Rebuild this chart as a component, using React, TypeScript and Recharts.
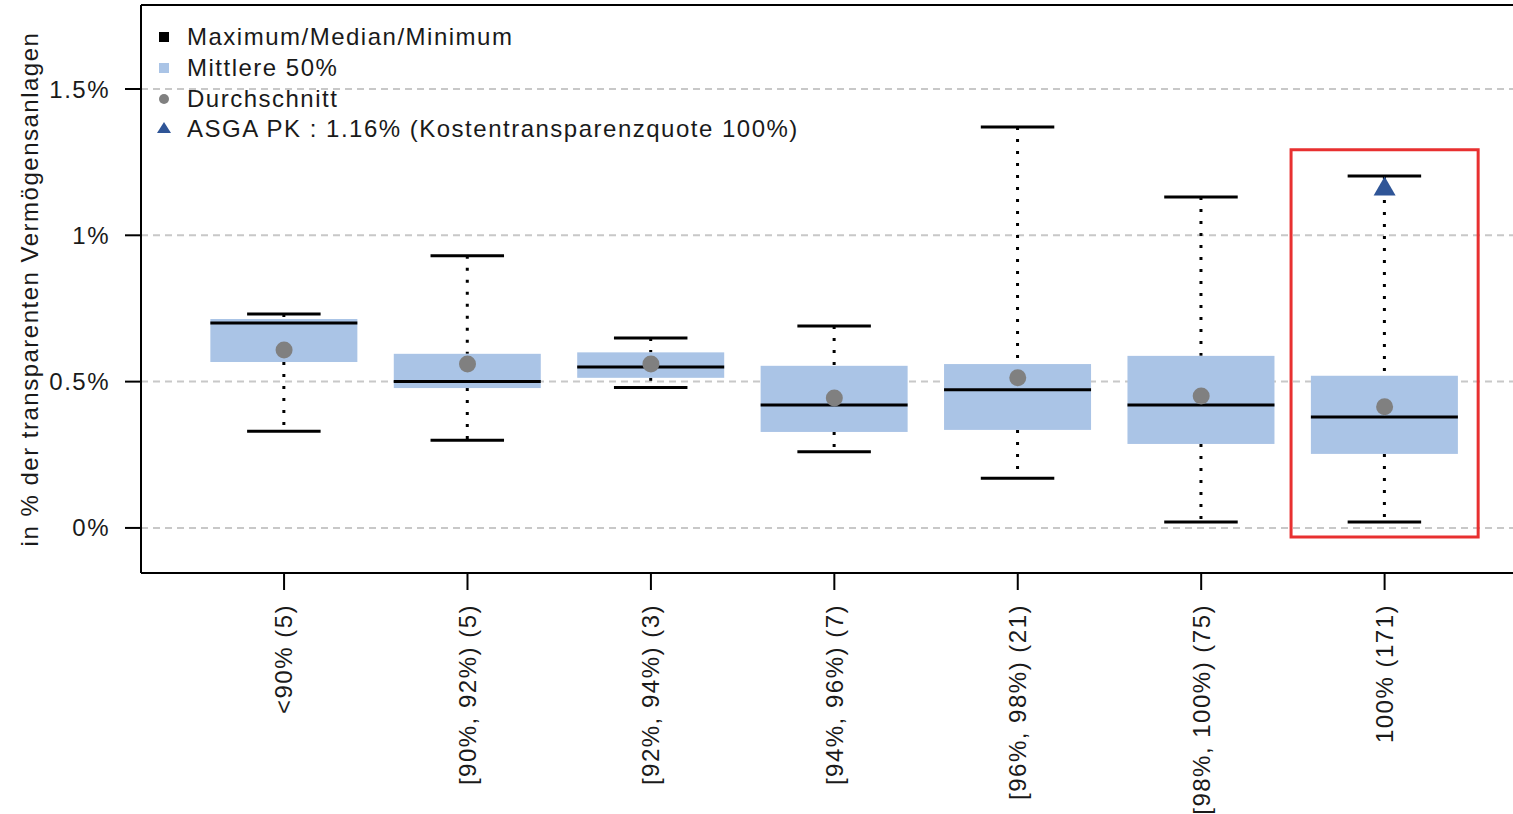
import {
  ComposedChart, Bar, Scatter, XAxis, YAxis, CartesianGrid, ReferenceArea, ReferenceLine, Legend,
} from 'recharts';

// categories = Kostentransparenzquote buckets (number of funds)
const categories = [
  '<90% (5)', '[90%, 92%) (5)', '[92%, 94%) (3)', '[94%, 96%) (7)',
  '[96%, 98%) (21)', '[98%, 100%) (75)', '100% (171)',
];
const minimums = [0.33, 0.30, 0.48, 0.26, 0.17, 0.02, 0.02];
const lowerQuartiles = [0.567, 0.478, 0.513, 0.328, 0.335, 0.287, 0.253];
const medians = [0.70, 0.50, 0.55, 0.42, 0.472, 0.42, 0.379];
const upperQuartiles = [0.714, 0.595, 0.60, 0.554, 0.56, 0.588, 0.52];
const maximums = [0.731, 0.93, 0.649, 0.69, 1.37, 1.131, 1.203];
const means = [0.608, 0.56, 0.56, 0.444, 0.513, 0.451, 0.414];

const asgaPosition = 7;
const asgaValue = 1.16;

const yTicks = [0, 0.5, 1, 1.5];
const xTicks = [1, 2, 3, 4, 5, 6, 7];
const xDomain = [0.22, 7.7];
const yDomain = [-0.154, 1.787];
const highlight = { x1: 6.49, x2: 7.51, y1: -0.031, y2: 1.292 };

const legendItems = [
  { label: 'Maximum/Median/Minimum', marker: 'square', color: '#000000' },
  { label: 'Mittlere 50%', marker: 'square', color: '#aac4e6' },
  { label: 'Durchschnitt', marker: 'circle', color: '#808080' },
  { label: 'ASGA PK : 1.16% (Kostentransparenzquote 100%)', marker: 'triangle', color: '#2f5597' },
];

const data = categories.map((c, i) => ({
  pos: i + 1,
  name: c,
  range: [minimums[i], maximums[i]],
  min: minimums[i],
  q1: lowerQuartiles[i],
  med: medians[i],
  q3: upperQuartiles[i],
  max: maximums[i],
  mean: means[i],
}));

const asgaData = [{ pos: asgaPosition, asga: asgaValue }];

const FONT = "'Liberation Sans', Arial, Helvetica, sans-serif";
const TEXT = '#1a1a1a';

function BoxShape(props: any) {
  const { x, y, width, height, payload } = props;
  const top = height >= 0 ? y : y + height;
  const h = Math.abs(height);
  const k = h / (payload.max - payload.min);
  const py = (v: number) => top + (payload.max - v) * k;
  const cx = x + width / 2;
  const cap = width / 4;
  return (
    <g>
      <line x1={cx} x2={cx} y1={py(payload.max)} y2={py(payload.q3)} stroke="#000" strokeWidth={3} strokeDasharray="3 9" />
      <line x1={cx} x2={cx} y1={py(payload.q1)} y2={py(payload.min)} stroke="#000" strokeWidth={3} strokeDasharray="3 9" />
      <line x1={cx - cap} x2={cx + cap} y1={py(payload.max)} y2={py(payload.max)} stroke="#000" strokeWidth={3} />
      <line x1={cx - cap} x2={cx + cap} y1={py(payload.min)} y2={py(payload.min)} stroke="#000" strokeWidth={3} />
      <rect x={x} y={py(payload.q3)} width={width} height={py(payload.q1) - py(payload.q3)} fill="#aac4e6" />
      <line x1={x} x2={x + width} y1={py(payload.med)} y2={py(payload.med)} stroke="#000" strokeWidth={3} />
    </g>
  );
}

function MeanDot(props: any) {
  const { cx, cy } = props;
  return <circle cx={cx} cy={cy} r={8.5} fill="#808080" />;
}

function Triangle(props: any) {
  const { cx, cy } = props;
  return <polygon points={`${cx},${cy - 12} ${cx - 11},${cy + 7} ${cx + 11},${cy + 7}`} fill="#2f5597" />;
}

function XTick(props: any) {
  const { x, y, payload } = props;
  return (
    <text
      x={x} y={y} dy="0.35em" textAnchor="end" transform={`rotate(-90, ${x}, ${y})`}
      fill={TEXT} fontSize={24} fontFamily={FONT} letterSpacing={1.5}
    >
      {categories[payload.value - 1]}
    </text>
  );
}

function YLabel(props: any) {
  const vb = props.viewBox || { x: 0, y: 5, width: 141, height: 568 };
  const x = vb.x + 30;
  const y = vb.y + vb.height / 2;
  return (
    <text
      x={x} y={y} dy="0.35em" textAnchor="middle" transform={`rotate(-90, ${x}, ${y})`}
      fill={TEXT} fontSize={24} fontFamily={FONT} letterSpacing={1.5}
    >
      in % der transparenten Vermögensanlagen
    </text>
  );
}

function LegendBox() {
  return (
    <div style={{ fontFamily: FONT, fontSize: 24, letterSpacing: 1.5, color: TEXT }}>
      {legendItems.map((it) => (
        <div key={it.label} style={{ display: 'flex', alignItems: 'center', height: 30.7 }}>
          <svg width={34} height={30} style={{ flexShrink: 0 }}>
            {it.marker === 'square' && <rect x={6} y={10} width={10} height={10} fill={it.color} />}
            {it.marker === 'circle' && <circle cx={11} cy={15} r={5} fill={it.color} />}
            {it.marker === 'triangle' && <polygon points="11,8 4,19 18,19" fill={it.color} />}
          </svg>
          <span style={{ whiteSpace: 'nowrap' }}>{it.label}</span>
        </div>
      ))}
    </div>
  );
}

export default function App() {
  return (
    <div style={{ position: 'absolute', left: 0, top: 0, width: 1513, height: 814, background: '#fff' }}>
      <ComposedChart width={1513} height={814} data={data} margin={{ top: 5, right: 0, bottom: 0, left: 0 }}>
        <CartesianGrid vertical={false} horizontalValues={yTicks} stroke="#c8c8c8" strokeWidth={2} strokeDasharray="7 5" />
        <XAxis
          dataKey="pos" type="number" domain={xDomain} ticks={xTicks} allowDataOverflow
          height={241} tickSize={17} tickMargin={14} interval={0}
          axisLine={{ stroke: '#000', strokeWidth: 2 }} tickLine={{ stroke: '#000', strokeWidth: 2 }}
          tick={<XTick />}
        />
        <YAxis
          type="number" domain={yDomain} ticks={yTicks} allowDataOverflow width={141}
          tickSize={16} tickMargin={15}
          axisLine={{ stroke: '#000', strokeWidth: 2 }} tickLine={{ stroke: '#000', strokeWidth: 2 }}
          tick={{ fill: TEXT, fontSize: 24, fontFamily: FONT, letterSpacing: 1.5 }}
          tickFormatter={(v: number) => `${v}%`}
          label={(p: any) => <YLabel {...p} />}
        />
        <ReferenceLine y={yDomain[1]} stroke="#000" strokeWidth={2} ifOverflow="visible" />
        <Legend
          layout="vertical" align="center" verticalAlign="middle"
          wrapperStyle={{ top: 22, left: 153, width: 'auto', height: 'auto' }}
          content={() => <LegendBox />}
        />
        <Bar dataKey="range" barSize={147} shape={<BoxShape />} isAnimationActive={false} legendType="none" />
        <Scatter dataKey="mean" shape={<MeanDot />} isAnimationActive={false} legendType="none" />
        <Scatter data={asgaData} dataKey="asga" shape={<Triangle />} isAnimationActive={false} legendType="none" />
        <ReferenceArea
          x1={highlight.x1} x2={highlight.x2} y1={highlight.y1} y2={highlight.y2}
          fill="none" fillOpacity={0} stroke="#e83030" strokeWidth={3} ifOverflow="visible"
        />
      </ComposedChart>
    </div>
  );
}
